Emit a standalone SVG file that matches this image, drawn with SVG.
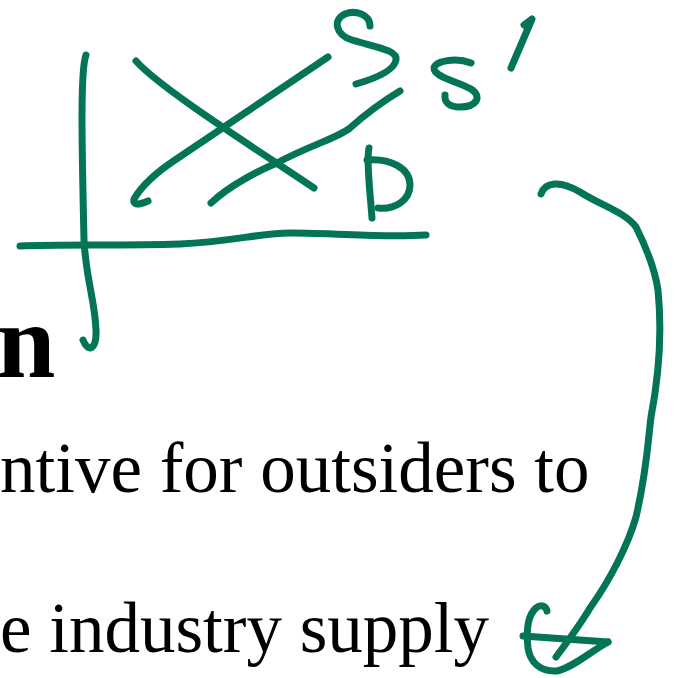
<svg xmlns="http://www.w3.org/2000/svg" width="675" height="678" viewBox="0 0 675 678">
<style>
.t{font-family:"Liberation Serif","Times New Roman",serif;fill:#000}
.ink{fill:none;stroke:#037556;stroke-width:7;stroke-linecap:round;stroke-linejoin:round}
</style>
<rect width="675" height="678" fill="#fff"/>
<g id="text">
<text class="t" x="-3" y="377" font-size="105" font-weight="bold">n</text>
<text class="t" x="0" y="492" font-size="71">ntive for outsiders to</text>
<text class="t" x="0" y="652" font-size="71">e industry supply</text>
</g>
<g id="graph">
<path class="ink" d="M86,55 C80,70 82,150 84,240 C86,280 95,300 96,330 C97,350 88,353 83,340" stroke-width="6"/>
<path class="ink" d="M20,246 C60,244 120,246 180,244 C230,242 260,233 290,233 C340,233 380,238 426,235" stroke-width="8"/>
<path class="ink" d="M148,201 Q132,208 134,199 Q145,180 175,160 L328,57"/>
<path class="ink" d="M136,61 C160,88 250,145 314,188"/>
<path class="ink" d="M211,203 C230,185 260,170 277,163 C310,145 338,138 350,128 C370,110 390,97 400,91"/>
</g>
<g id="labels">
<path class="ink" d="M370,26 C370,14 355,10 345,14 C332,20 336,35 352,40 C375,47 398,50 396,60 C394,72 370,80 356,84"/>
<path class="ink" d="M471,63 C456,57 435,61 434,68 C434,77 456,81 471,89 C483,97 476,107 460,107 C450,107 444,103 445,95" stroke-width="8"/>
<path class="ink" d="M524,25 L532,19 L511,68" stroke-width="8"/>
<path class="ink" d="M369,148 C366,160 370,190 372,218" stroke-width="8"/>
<path class="ink" d="M367,160 C390,158 410,168 410,185 C410,200 395,210 378,208" stroke-width="8"/>
</g>
<g id="connectors">
<path class="ink" d="M541,194 C545,182 560,180 580,192 C600,205 625,212 636,227 C645,245 655,270 658,290 C662,330 660,370 651,417 C648,440 647,470 636,517 C628,545 610,580 590,608 C580,625 565,645 556,657" stroke-width="8"/>
<path class="ink" d="M523,636 L608,642" stroke-width="8"/>
<path class="ink" d="M608,642 C590,652 572,668 557,671 C540,672 530,662 528,648 C526,630 528,615 536,608 C541,604 546,606 547,611" stroke-width="8"/>
</g>
</svg>
